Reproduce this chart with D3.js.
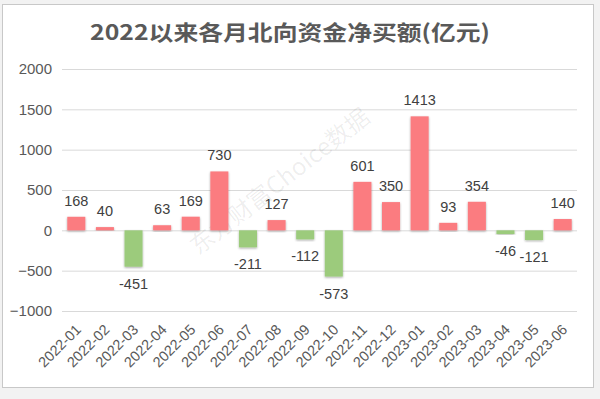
<!DOCTYPE html>
<html>
<head>
<meta charset="utf-8">
<script src="https://cdn.jsdelivr.net/npm/d3@7"></script>
<style>
html,body{margin:0;padding:0;background:#fff;}
svg{display:block;}
</style>
</head>
<body>
<script>
const titleText = "2022以来各月北向资金净买额(亿元)";
const months = ["2022-01","2022-02","2022-03","2022-04","2022-05","2022-06","2022-07","2022-08","2022-09","2022-10","2022-11","2022-12","2023-01","2023-02","2023-03","2023-04","2023-05","2023-06"];
const values = [168,40,-451,63,169,730,-211,127,-112,-573,601,350,1413,93,354,-46,-121,140];
const yTicks = [-1000,-500,0,500,1000,1500,2000];
const watermark = "东方财富Choice数据";

const W = 600, H = 399;
const svg = d3.select("body").append("svg").attr("width", W).attr("height", H);
const font = "'Liberation Sans', Arial, 'Noto Sans CJK SC', sans-serif";

const defs = svg.append("defs");
const f = defs.append("filter").attr("id","sh").attr("x","-20%").attr("y","-20%").attr("width","140%").attr("height","140%");
f.append("feDropShadow").attr("dx",0).attr("dy",1).attr("stdDeviation",0.8).attr("flood-color","#000").attr("flood-opacity",0.35);

// background frame
svg.append("rect").attr("x",0).attr("y",0).attr("width",W).attr("height",H).attr("fill","#f2f2f2");
svg.append("rect").attr("x",2.5).attr("y",4.5).attr("width",591).attr("height",383)
  .attr("fill","#fff").attr("stroke","#c8c8c8").attr("stroke-width",1);

// title
svg.append("text").attr("x",290).attr("y",40).attr("text-anchor","middle")
  .attr("font-family","'Noto Sans CJK SC', sans-serif").attr("font-weight","bold")
  .attr("font-size",21).attr("fill","#595959")
  .attr("textLength",400).attr("lengthAdjust","spacingAndGlyphs")
  .text(titleText);

const x = d3.scaleBand().domain(months).range([62,577]).paddingInner(0.37).paddingOuter(0.185);
const y = d3.scaleLinear().domain([-1000,2000]).range([311,69]);

// grid
const yAxis = d3.axisLeft(y).tickValues(yTicks).tickSize(-(577-62)).tickPadding(10).tickFormat(d3.format("d"));
const gy = svg.append("g").attr("transform","translate(62,0)").call(yAxis);
gy.select(".domain").remove();
gy.selectAll(".tick line").attr("stroke","#d9d9d9").attr("stroke-width",1);
gy.selectAll(".tick text").attr("font-family",font).attr("font-size",15).attr("fill","#595959");

// watermark
svg.append("text").attr("transform","translate(285,188) rotate(-38)")
  .attr("text-anchor","middle").attr("font-family","'Noto Sans CJK SC', sans-serif")
  .attr("font-size",24).attr("fill","#000").attr("fill-opacity",0.07).text(watermark);

// bars
svg.append("g").selectAll("rect").data(values).join("rect")
  .attr("x",(d,i)=>x(months[i]))
  .attr("width",x.bandwidth())
  .attr("y",d=>d>=0?y(d):y(0))
  .attr("height",d=>Math.abs(y(d)-y(0)))
  .attr("fill",d=>d>=0?"#fb7b80":"#9ccb7c")
  .attr("filter","url(#sh)");

// value labels
svg.append("g").selectAll("text").data(values).join("text")
  .attr("x",(d,i)=>x(months[i])+x.bandwidth()/2)
  .attr("y",d=>d>=0?y(d)-11:y(d)+22)
  .attr("text-anchor","middle").attr("font-family",font).attr("font-size",14.5).attr("fill","#404040")
  .text(d=>d);

// x labels
const xAxis = d3.axisBottom(x).tickSize(0).tickPadding(0);
const gx = svg.append("g").attr("transform","translate(0,327)").call(xAxis);
gx.select(".domain").remove();
gx.selectAll(".tick text")
  .attr("font-family",font).attr("font-size",14.5).attr("fill","#595959")
  .attr("text-anchor","end").attr("dy","0.35em").attr("dx",0)
  .attr("transform","translate(2,0) rotate(-45)");
</script>
</body>
</html>
